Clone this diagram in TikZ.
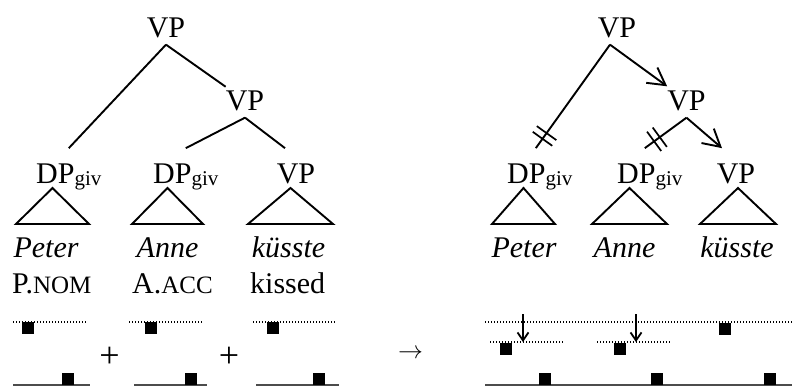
\documentclass[tikz,border=0pt]{standalone}
\usepackage{fontspec}
\setmainfont{Liberation Serif}
\usepackage{tikz}
\usetikzlibrary{arrows.meta,decorations.markings}

\newcommand{\givsub}{{\fontsize{21}{21}\selectfont\raisebox{-2pt}{giv}}}
\newcommand{\smallcap}[1]{{\fontsize{25}{25}\selectfont #1}}

\begin{document}
\begin{tikzpicture} [
					x=1pt,y=-1pt,
					every node/.style={inner sep=0,font=\fontsize{30}{36}\selectfont},
					cat/.style={anchor=base,inner ysep=7pt},
					leaf/.style={anchor=base,inner ysep=15pt},
					branch/.style={line width=1.9pt},
					head/.style={branch,-{Straight Barb[length=17pt,width=19pt,line width=1.9pt]}},
					given/.style={branch,postaction={decorate},decoration={markings,
						mark=at position -15pt with {\draw[line width=1.7pt] (-3.5pt,-12pt) -- (-3.5pt,12pt) (3.5pt,-12pt) -- (3.5pt,12pt);}}},
					tri/.style={line width=1.9pt},
					word/.style={anchor=base,font=\fontsize{30}{36}\selectfont\itshape},
					gloss/.style={anchor=base west},
					op/.style={font=\fontsize{36}{40}\selectfont},
					tone/.style={fill=black,minimum size=12pt},
					high/.style={line width=1.3pt,dash pattern=on 1.3pt off 1.7pt},
					low/.style={line width=1.4pt,black!70},
					fall/.style={line width=1.8pt,-{Straight Barb[length=8pt,width=11pt]}},
		%			scale=0.8,
				]
				\useasboundingbox (0,0) rectangle (792,386);
				
				% left: the sentence
				\node[cat] (vp0) at (166,37) {VP};
				\node[cat] (vp1) at (245,110) {VP};
				\node[leaf,anchor=base west] (dp1) at (36,183) {DP\givsub};
				\node[leaf,anchor=base west] (dp2) at (153,183) {DP\givsub};
				\node[leaf] (vp2) at (296,183) {VP};
				
				\draw[branch] (vp0.south) -- (dp1.north);
				\draw[branch] (vp0.south) -- (vp1);
				\draw[branch] (vp1.south) -- (dp2.north);
				\draw[branch] (vp1.south) -- ([xshift=-11pt]vp2.north);
				
				\draw[tri] (52.5,188) -- (16,224) -- (89,224) -- cycle;
				\draw[tri] (167.5,188) -- (132,224) -- (203,224) -- cycle;
				\draw[tri] (290.5,188) -- (248,224) -- (333,224) -- cycle;
				
				\node[word] (w1) at (46,257) {Peter};
				\node[word] (w2) at (167.5,257) {Anne};
				\node[word] (w3) at (288.5,257) {küsste};
				\node[gloss] (g1) at (12,293) {P.\smallcap{NOM}};
				\node[gloss] (g2) at (132,293) {A.\smallcap{ACC}};
				\node[gloss] (g3) at (250,293) {kissed};
				
				\draw[high] (13,322) -- (87,322);
				\draw[high] (129,322) -- (203,322);
				\draw[high] (253,322) -- (336,322);
				\node[tone] (h1) at (28,328) {};
				\node[tone] (h2) at (151,328) {};
				\node[tone] (h3) at (273,328) {};
				\draw[low] (13,385) -- (90,385);
				\draw[low] (134,385) -- (207,385);
				\draw[low] (256,385) -- (339,385);
				\node[tone] (l1) at (67.5,379) {};
				\node[tone] (l2) at (190.5,379) {};
				\node[tone] (l3) at (319,379) {};
				\node[op] (plus1) at (109.5,357) {+};
				\node[op] (plus2) at (229,357) {+};
				\node (arr) at (410.5,354) {$\rightarrow$};
				
				% right: after destressing
				\node[cat] (rvp0) at (617,37) {VP};
				\node[cat] (rvp1) at (686.5,110) {VP};
				\node[leaf,anchor=base west] (rdp1) at (507,183) {DP\givsub};
				\node[leaf,anchor=base west] (rdp2) at (617,183) {DP\givsub};
				\node[leaf] (rvp2) at (736,183) {VP};
				
				\draw[given] ([xshift=-7pt]rvp0.south) -- ([xshift=-4pt]rdp1.north);
				\draw[head] ([xshift=-7pt]rvp0.south) -- (rvp1);
				\draw[given] (rvp1.south) -- ([xshift=-5pt]rdp2.north);
				\draw[head] (rvp1.south) -- ([xshift=-14pt]rvp2.north);
				
				\draw[tri] (523.5,188) -- (492,224) -- (555,224) -- cycle;
				\draw[tri] (629.5,188) -- (592,224) -- (667,224) -- cycle;
				\draw[tri] (738,188) -- (700,224) -- (776,224) -- cycle;
				
				\node[word] (rw1) at (524,257) {Peter};
				\node[word] (rw2) at (624.5,257) {Anne};
				\node[word] (rw3) at (737,257) {küsste};
				
				\draw[high] (485,322) -- (792,322);
				\draw[high] (490,342) -- (564,342);
				\draw[high] (597,342) -- (671,342);
				\node[tone] (rh1) at (505.5,349) {};
				\node[tone] (rh2) at (620,349) {};
				\node[tone] (rh3) at (725,328.5) {};
				\draw[low] (485,385) -- (792,385);
				\node[tone] (rl1) at (545,379) {};
				\node[tone] (rl2) at (656.5,379) {};
				\node[tone] (rl3) at (770,379) {};
				
				\coordinate (f1) at (523,314);
				\coordinate (f1e) at (523,342);
				\coordinate (f2) at (636,314);
				\coordinate (f2e) at (636,342);
				\draw[fall] (f1) -- (f1e);
				\draw[fall] (f2) -- (f2e);
				
			\end{tikzpicture}
\end{document}
